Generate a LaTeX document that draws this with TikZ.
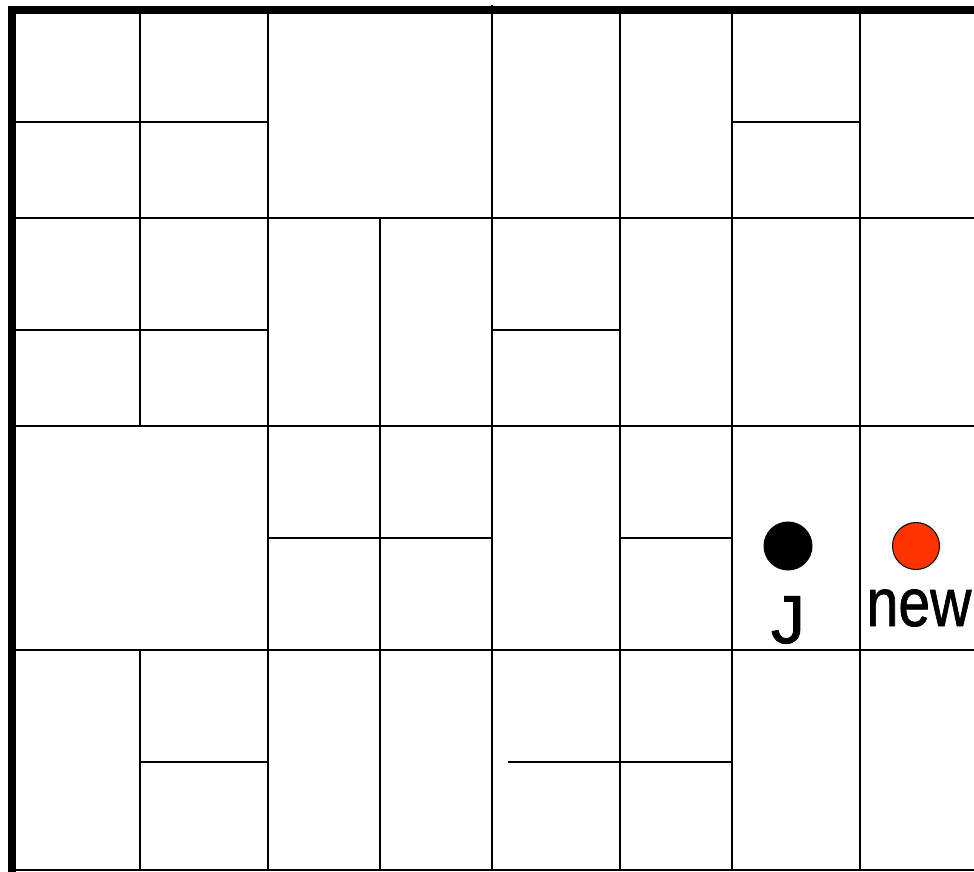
\documentclass[tikz,border=0pt]{standalone}
\usepackage{fontspec}
\setmainfont{Liberation Sans}
\newfontfamily\lblfont{Liberation Sans}[FakeBold=1.2]
\definecolor{newred}{HTML}{FF3300}
\begin{document}
\begin{tikzpicture}[x=1pt,y=-1pt,
  wall/.style={line width=2pt,black},
  outer/.style={line width=8pt,black},
  dotnode/.style={circle,inner sep=0pt,minimum size=49pt},
  lbl/.style={font=\lblfont\fontsize{68}{68}\selectfont,inner sep=0pt,anchor=base}]
\useasboundingbox (0,0) rectangle (974,872);
\fill[white] (0,0) rectangle (974,872);
% full-height verticals
\foreach \x in {268,620,732,860} \draw[wall] (\x,10) -- (\x,870);
\draw[wall] (492,5) -- (492,870);
\draw[wall] (140,10) -- (140,426);
\draw[wall] (140,650) -- (140,870);
\draw[wall] (380,218) -- (380,870);
% full-width horizontals
\foreach \y in {218,426,650} \draw[wall] (12,\y) -- (974,\y);
\draw[wall] (12,870) -- (974,870);
% partial horizontals
\draw[wall] (12,122) -- (268,122);
\draw[wall] (732,122) -- (860,122);
\draw[wall] (12,330) -- (268,330);
\draw[wall] (492,330) -- (620,330);
\draw[wall] (268,538) -- (492,538);
\draw[wall] (620,538) -- (732,538);
\draw[wall] (140,762) -- (268,762);
\draw[wall] (508,762) -- (732,762);
% outer thick border
\draw[outer] (12,872) -- (12,10) -- (974,10);
% markers
\node[dotnode,fill=black] (jdot) at (788,546) {};
\node[dotnode,fill=newred,draw=black,line width=1pt,minimum size=47pt] (newdot) at (916,546) {};
\node[lbl] (jlbl) at (788,643) {J};
\node[lbl,xscale=0.84] (newlbl) at (919,626) {new};
\end{tikzpicture}
\end{document}
